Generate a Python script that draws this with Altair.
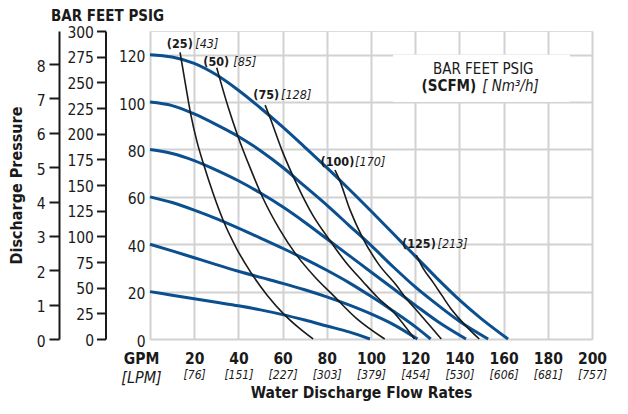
import altair as alt
import pandas as pd

FONT = "Liberation Sans Narrow, DejaVu Sans Condensed, Arial Narrow, sans-serif"
BLUE = "#0b4f8f"
INK = "#1a1a1a"
GRID = "#d2d2d2"

# ---- Blue curves: inlet air pressure (psig) ----
b20_gpm = [0, 10, 20, 30, 40, 50, 60, 70, 80, 90, 99.5]
b20_psi = [20, 18.5, 17, 15.5, 14, 12.3, 10.3, 8, 5.5, 3, 0]
b40_gpm = [0, 10, 20, 30, 40, 50, 60, 70, 80, 90, 100, 110, 121]
b40_psi = [40, 37.2, 34.3, 31.4, 28.6, 26, 23.5, 20.8, 17.8, 14.4, 10.6, 6.2, 0]
b60_gpm = [0, 10, 20, 30, 40, 50, 60, 70, 80, 90, 100, 110, 120, 127]
b60_psi = [60, 57.6, 54.4, 50.8, 46.8, 42.6, 38.3, 33.8, 29, 23.8, 18, 11.8, 5.2, 0]
b80_gpm = [0, 10, 20, 30, 40, 50, 60, 70, 80, 90, 100, 110, 120, 130, 143]
b80_psi = [80, 78.3, 75.3, 71.3, 66.8, 61.6, 55.8, 49.3, 42.3, 35.3, 28.3, 21.3, 14.3, 7.5, 0]
b100_gpm = [0, 10, 20, 30, 40, 50, 60, 70, 80, 90, 100, 110, 120, 130, 140, 153]
b100_psi = [100, 98.5, 95, 90.5, 85.5, 79.5, 72.5, 64.5, 56.5, 48, 39.5, 30.5, 22, 14.5, 7.5, 0]
b120_gpm = [0, 10, 20, 30, 40, 50, 60, 70, 80, 90, 100, 110, 120, 130, 140, 150, 162]
b120_psi = [120, 119, 116.3, 111.5, 105, 97.5, 89.5, 81, 72.3, 63.3, 54, 44.5, 35, 25.5, 16.5, 8.5, 0]

# ---- Black curves: air consumption (SCFM) ----
k25_gpm = [13.6, 16, 18.4, 21.2, 24.4, 28.5, 33.1, 39, 45.9, 53, 61, 67, 73.8]
k25_psi = [121, 107.8, 95, 83.5, 73.3, 61.6, 50.1, 38.5, 27.7, 18.5, 10.1, 5, 0]
k50_gpm = [30.2, 31.6, 35.5, 39.9, 45.5, 51.2, 58.5, 66.3, 74.5, 82.8, 93.4, 106.2]
k50_psi = [114.5, 109.8, 97.5, 85.3, 71.8, 59.3, 46.5, 35.4, 26.3, 18.5, 8.7, 0]
k75_gpm = [52.1, 54.2, 60, 66.3, 73.5, 81.3, 88.5, 96.4, 103, 110, 119.7]
k75_psi = [98.7, 93.7, 79, 65.6, 52.5, 41.7, 32.5, 24.2, 17.5, 11.5, 0]
k100_gpm = [83.7, 85.5, 90.5, 96.4, 103.5, 111.4, 116, 121.2, 126, 131.8]
k100_psi = [71.3, 67.7, 54.5, 42.4, 31.5, 22.8, 17, 11.5, 6.3, 0]
k125_gpm = [120.5, 123.6, 128, 132, 136, 140, 144, 149]
k125_psi = [35.4, 29.8, 24, 18.5, 13, 8.5, 4.5, 0]

# ---- curve labels ----
scfm = ["(25)", "(50)", "(75)", "(100)", "(125)"]
nm3h = ["[43]", "[85]", "[128]", "[170]", "[213]"]
lab_bold_x = [13.5, 30.0, 52.6, 84.8, 121.7]
lab_ital_x = [20.5, 37.7, 59.3, 92.8, 130.1]
lab_psi = [124.6, 117.0, 103.0, 74.9, 40.0]

# ---- axes ----
gpm_ticks = list(range(0, 201, 20))
lpm_labels = ["[LPM]", "[76]", "[151]", "[227]", "[303]", "[379]", "[454]",
              "[530]", "[606]", "[681]", "[757]"]
psi_ticks = list(range(0, 131, 10))
bar_ticks = list(range(0, 9))
feet_ticks = list(range(0, 301, 25))

blue_rows = []
for p, g, v in [(20, b20_gpm, b20_psi), (40, b40_gpm, b40_psi), (60, b60_gpm, b60_psi),
                (80, b80_gpm, b80_psi), (100, b100_gpm, b100_psi), (120, b120_gpm, b120_psi)]:
    for a, b in zip(g, v):
        blue_rows.append({"gpm": a, "psi": b, "curve": p})
blue_df = pd.DataFrame(blue_rows)

black_rows = []
for s, g, v in [(25, k25_gpm, k25_psi), (50, k50_gpm, k50_psi), (75, k75_gpm, k75_psi),
                (100, k100_gpm, k100_psi), (125, k125_gpm, k125_psi)]:
    for a, b in zip(g, v):
        black_rows.append({"gpm": a, "psi": b, "curve": s})
black_df = pd.DataFrame(black_rows)

lab_df = pd.DataFrame({"bold": scfm, "ital": nm3h, "bx": lab_bold_x,
                       "ix": lab_ital_x, "py": lab_psi})

xscale = alt.Scale(domain=[0, 200], nice=False, zero=False)
yscale = alt.Scale(domain=[0, 130], nice=False, zero=False)

x_axis = alt.Axis(
    values=list(range(0, 201, 10)),
    labelExpr="datum.value % 20 == 0 ? (datum.value == 0 ? 'GPM' : datum.label) : ''",
    grid=True, gridColor=GRID, gridWidth=2, domain=False, ticks=False,
    labelFont=FONT, labelFontSize=15.5, labelFontWeight="bold", labelColor=INK,
    labelPadding=12, labelFlush=False, labelOverlap=False,
    labelOffset={"condition": {"test": "datum.value == 0", "value": -9}, "value": 0},
    title=None,
)
y_axis = alt.Axis(
    values=psi_ticks,
    labelExpr="datum.value % 20 == 0 ? datum.label : ''",
    grid=True, gridColor=GRID, gridWidth=2, domain=False, ticks=False,
    labelFont=FONT, labelFontSize=15.5, labelColor=INK, labelPadding=5,
    labelOverlap=False, labelFlush=False, labelOffset=2, title=None,
)

X = alt.X("gpm:Q", scale=xscale, axis=x_axis)
Y = alt.Y("psi:Q", scale=yscale, axis=y_axis)

blue = alt.Chart(blue_df).mark_line(color=BLUE, strokeWidth=3, interpolate="monotone").encode(
    x=X, y=Y, detail="curve:N")
black = alt.Chart(black_df).mark_line(color=INK, strokeWidth=1.6, interpolate="monotone").encode(
    x=X, y=Y, detail="curve:N")

lab_b = alt.Chart(lab_df).mark_text(font=FONT, fontSize=12.5, fontWeight="bold", color=INK,
                                    align="center", baseline="middle").encode(
    x=alt.X("bx:Q", scale=xscale), y=alt.Y("py:Q", scale=yscale), text="bold:N")
lab_i = alt.Chart(lab_df).mark_text(font=FONT, fontSize=12.5, fontStyle="italic", color=INK,
                                    align="left", baseline="middle").encode(
    x=alt.X("ix:Q", scale=xscale), y=alt.Y("py:Q", scale=yscale), text="ital:N")

# legend box
box_df = pd.DataFrame({"x": [110], "x2": [190], "y": [100], "y2": [120]})
box = alt.Chart(box_df).mark_rect(fill="white").encode(
    x=alt.X("x:Q", scale=xscale), x2="x2:Q", y=alt.Y("y:Q", scale=yscale), y2="y2:Q")
leg_df = pd.DataFrame({"t1": ["BAR FEET PSIG"], "t2": ["(SCFM)"], "t3": ["[ Nm³/h]"],
                       "x1": [150.8], "y1": [113.9], "x2": [147.6], "x3": [150.3], "y2": [106.6]})
leg1 = alt.Chart(leg_df).mark_text(font=FONT, fontSize=15, color=INK, align="center",
                                   baseline="middle").encode(
    x=alt.X("x1:Q", scale=xscale), y=alt.Y("y1:Q", scale=yscale), text="t1:N")
leg2 = alt.Chart(leg_df).mark_text(font=FONT, fontSize=15, fontWeight="bold", color=INK,
                                   align="right", baseline="middle").encode(
    x=alt.X("x2:Q", scale=xscale), y=alt.Y("y2:Q", scale=yscale), text="t2:N")
leg3 = alt.Chart(leg_df).mark_text(font=FONT, fontSize=15, fontStyle="italic", color=INK,
                                   align="left", baseline="middle").encode(
    x=alt.X("x3:Q", scale=xscale), y=alt.Y("y2:Q", scale=yscale), text="t3:N")

main = alt.layer(box, blue, black, lab_b, lab_i, leg1, leg2, leg3)

# extra axes: bar, feet, lpm
bar_df = pd.DataFrame({"bar": [0.0]})
bar_layer = alt.Chart(bar_df).mark_point(opacity=0).encode(
    y=alt.Y("bar:Q", scale=alt.Scale(domain=[0, 130 * 0.0689476], nice=False, zero=False),
            axis=alt.Axis(orient="left", offset=91, values=bar_ticks, grid=False,
                          domainColor=INK, domainWidth=2, tickColor=INK, tickWidth=2,
                          tickSize=10, labelFont=FONT, labelFontSize=15.5, labelColor=INK,
                          labelPadding=4, labelFlush=False, labelOverlap=False, labelOffset=2,
                          title="Discharge Pressure", titleFont=FONT, titleFontSize=16,
                          titleFontWeight="bold", titleColor=INK, titlePadding=12)))
feet_df = pd.DataFrame({"feet": [0.0]})
feet_layer = alt.Chart(feet_df).mark_point(opacity=0).encode(
    y=alt.Y("feet:Q", scale=alt.Scale(domain=[0, 300], nice=False, zero=False),
            axis=alt.Axis(orient="left", offset=44.5, values=feet_ticks, grid=False,
                          domainColor=INK, domainWidth=2, tickColor=INK, tickWidth=2,
                          tickSize=9, labelFont=FONT, labelFontSize=15.5, labelColor=INK,
                          labelPadding=3, labelFlush=False, labelOverlap=False, labelOffset=1,
                          title=None)))

lpm_expr = " : ".join(f"datum.value == {v} ? '{l}'" for v, l in zip(gpm_ticks, lpm_labels)) + " : ''"
lpm_df = pd.DataFrame({"g": [0.0]})
lpm_layer = alt.Chart(lpm_df).mark_point(opacity=0).encode(
    x=alt.X("g:Q", scale=alt.Scale(domain=[0, 200], nice=False, zero=False),
            axis=alt.Axis(orient="bottom", values=gpm_ticks, labelExpr=lpm_expr, grid=False,
                          domain=False, ticks=False, labelFont=FONT,
                          labelFontSize={"condition": {"test": "datum.value == 0", "value": 16}, "value": 12},
                          labelFontStyle="italic", labelColor=INK, labelPadding=30,
                          labelFlush=False, labelOverlap=False,
                          labelOffset={"condition": {"test": "datum.value == 0", "value": -9}, "value": 0},
                          title="Water Discharge Flow Rates", titleFont=FONT, titleFontSize=15.5,
                          titleFontWeight="bold", titleColor=INK, titlePadding=0, titleX=211)))

chart = alt.layer(main, bar_layer, feet_layer, lpm_layer).resolve_scale(
    x="independent", y="independent"
).properties(
    width=442, height=308,
    title=alt.TitleParams("BAR FEET PSIG", anchor="start", frame="group", dx=-99,
                          font=FONT, fontSize=15, fontWeight="bold", color=INK, offset=1),
    padding={"left": 0, "top": 1, "right": 5, "bottom": 0},
).configure_view(stroke=None).configure(background="white")

chart.save("out.html", embed_options={"renderer": "svg", "actions": False})
